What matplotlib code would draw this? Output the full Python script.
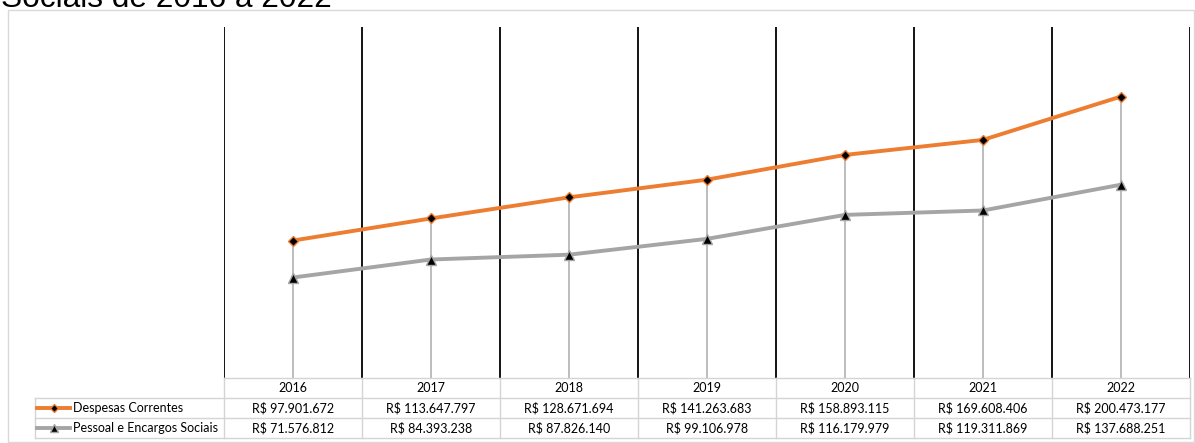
import matplotlib
matplotlib.use("Agg")
import matplotlib.pyplot as plt
from matplotlib.lines import Line2D
from matplotlib.patches import Rectangle
from matplotlib.transforms import blended_transform_factory

plt.rcParams["font.family"] = ["Lato", "DejaVu Sans"]

YEARS = ["2016", "2017", "2018", "2019", "2020", "2021", "2022"]
SERIES_NAMES = ["Despesas Correntes", "Pessoal e Encargos Sociais"]
DESPESAS = [97901672, 113647797, 128671694, 141263683, 158893115, 169608406, 200473177]
PESSOAL = [71576812, 84393238, 87826140, 99106978, 116179979, 119311869, 137688251]
TITLE = "Sociais de 2016 a 2022"

W, H = 1195, 443
fig = plt.figure(figsize=(W / 100, H / 100), dpi=100)


def fx(x):
    return x / W


def fy(y):
    return 1 - y / H


# chart frame
fig.patches.append(Rectangle((fx(8), fy(442)), fx(1186), (442 - 10) / H,
                             transform=fig.transFigure, fill=False,
                             edgecolor="#D9D9D9", linewidth=1))
# title is cut off by the top edge in the source image
fig.text(fx(1), fy(7), TITLE, fontsize=22.8, family=["Liberation Sans", "DejaVu Sans"],
         va="baseline", ha="left", color="#000000")

ax = fig.add_axes([fx(224), fy(378), fx(1190) - fx(224), (378 - 27) / H])
x = list(range(len(YEARS)))
ax.set_xlim(-0.5, len(YEARS) - 0.5)
ax.set_ylim(0, 250_000_000)
for s in ax.spines.values():
    s.set_visible(False)
ax.set_xticks([])
ax.set_yticks([])

# category gridlines
for i in range(len(YEARS) + 1):
    ax.axvline(i - 0.5, color="black", linewidth=1.3, zorder=1)

# drop lines
tops = [max(a, b) for a, b in zip(DESPESAS, PESSOAL)]
ax.vlines(x, 0, tops, color="#BDBDBD", linewidth=1.4, zorder=2)

ax.plot(x, DESPESAS, color="#ED7D31", linewidth=2.8, marker="D", markersize=5,
        markerfacecolor="black", markeredgecolor="#ED7D31", markeredgewidth=1, zorder=4)
ax.plot(x, PESSOAL, color="#A5A5A5", linewidth=2.8, marker="^", markersize=7,
        markerfacecolor="black", markeredgecolor="#A5A5A5", markeredgewidth=1, zorder=3)

# data table
trans = blended_transform_factory(ax.transData, fig.transFigure)
grid_c = "#D4D4D4"
rows_y = [378, 398, 418, 438]
left_px = 35

fig.add_artist(Line2D([fx(224), fx(1190)], [fy(378), fy(378)], color=grid_c, lw=1))
for yy in rows_y[1:]:
    fig.add_artist(Line2D([fx(left_px), fx(1190)], [fy(yy), fy(yy)], color=grid_c, lw=1))
for i in range(len(YEARS) + 1):
    fig.add_artist(Line2D([i - 0.5, i - 0.5], [fy(378), fy(438)], color=grid_c, lw=1,
                          transform=trans))
fig.add_artist(Line2D([fx(left_px), fx(left_px)], [fy(398), fy(438)], color=grid_c, lw=1))

fs = 9
for i, yr in enumerate(YEARS):
    ax.text(i, fy(388), yr, transform=trans, ha="center", va="center", fontsize=fs)
    ax.text(i, fy(408), f"R$ {DESPESAS[i]:,}".replace(",", "."), transform=trans,
            ha="center", va="center", fontsize=fs)
    ax.text(i, fy(428), f"R$ {PESSOAL[i]:,}".replace(",", "."), transform=trans,
            ha="center", va="center", fontsize=fs)

# legend keys inside table
fig.add_artist(Line2D([fx(37), fx(53.5), fx(70)], [fy(408)] * 3, color="#ED7D31", lw=2.8,
                      marker="D", markersize=4, markevery=[1],
                      markerfacecolor="black", markeredgecolor="#ED7D31"))
fig.add_artist(Line2D([fx(37), fx(53.5), fx(70)], [fy(428)] * 3, color="#A5A5A5", lw=2.8,
                      marker="^", markersize=6, markevery=[1],
                      markerfacecolor="black", markeredgecolor="#A5A5A5"))
fig.text(fx(73), fy(408), SERIES_NAMES[0], ha="left", va="center", fontsize=fs)
fig.text(fx(73), fy(428), SERIES_NAMES[1], ha="left", va="center", fontsize=fs)

fig.savefig("out.png", dpi=100)
